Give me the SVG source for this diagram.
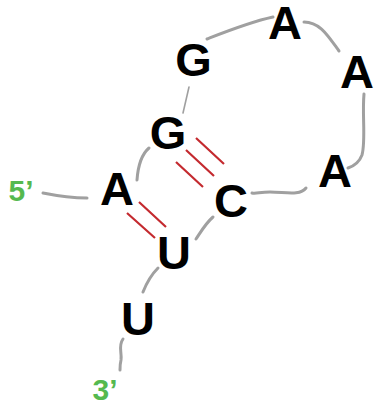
<svg xmlns="http://www.w3.org/2000/svg" width="378" height="405" viewBox="0 0 378 405">
  <style>
    .nt { font-family: "Liberation Sans", Arial, sans-serif; font-weight: bold; font-size: 47px; fill: #000; text-anchor: middle; }
    .end { font-family: "Liberation Sans", Arial, sans-serif; font-weight: bold; font-size: 30px; fill: #55b94f; text-anchor: middle; }
    .bb { fill: none; stroke: #a0a0a0; stroke-width: 3; stroke-linecap: round; }
    .thin { stroke-width: 1.6; }
    .bp { stroke: #c42a2f; stroke-width: 2.2; }
  </style>
  <rect width="378" height="405" fill="#fff"/>

  <!-- backbone -->
  <g id="connectors">
    <path class="bb" d="M43,193 C58,196 72,198 87,198"/>
    <path class="bb" d="M137,180 C138,166 142,154 149,148"/>
    <path class="bb thin" d="M189,87 L183,113"/>
    <path class="bb" d="M207,39 C230,30 250,22 273,17"/>
    <path class="bb" d="M304,22 C320,22 328,36 339,51"/>
    <path class="bb" d="M364,94 C362,115 366,140 362,155 C359,163 354,166 348,168"/>
    <path class="bb" d="M306,188 C300,196 285,192 270,192 C260,192 256,194 252,193"/>
    <path class="bb" d="M213,217 C206,223 202,230 196,239"/>
    <path class="bb" d="M158,268 C152,274 147,282 143,292"/>
    <path class="bb" d="M123,339 C118,346 122,352 121,360 C120,364 120,367 120,370"/>
    <!-- base pairs -->
    <path class="bp" d="M196,138 L224,164 M186,150 L214,176 M176,162 L203,187"/>
    <path class="bp" d="M139,202 L166,227 M127,213 L155,238"/>
  </g>

  <g id="n1"><text class="nt" x="117" y="205">A</text></g>
  <g id="n2"><text class="nt" x="168" y="149">G</text></g>
  <g id="n3"><text class="nt" x="193.5" y="76">G</text></g>
  <g id="n4"><text class="nt" x="285" y="39">A</text></g>
  <g id="n5"><text class="nt" x="357" y="88">A</text></g>
  <g id="n6"><text class="nt" x="335" y="187">A</text></g>
  <g id="n7"><text class="nt" x="231" y="217">C</text></g>
  <g id="n8"><text class="nt" x="174" y="269">U</text></g>
  <g id="n9"><text class="nt" x="138" y="335">U</text></g>
  <g id="end5"><text class="end" x="21" y="201">5’</text></g>
  <g id="end3"><text class="end" x="105" y="400">3’</text></g>
</svg>
